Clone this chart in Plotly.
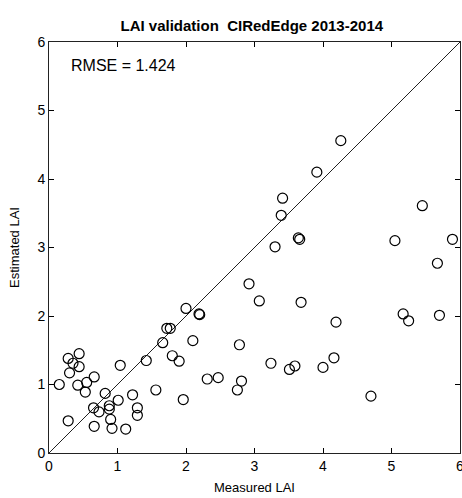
import plotly.graph_objects as go

measured = [0.15, 0.28, 0.30, 0.35, 0.44, 0.44, 0.42, 0.55, 0.53, 0.66, 1.04, 0.28, 0.65, 0.66,
            0.73, 0.82, 0.88, 0.88, 0.90, 0.92, 1.01, 1.12, 1.22, 1.29, 1.29, 1.42,
            1.56, 1.66, 1.72, 1.77, 1.80, 1.90, 1.96, 2.00, 2.10, 2.19, 2.20, 2.31, 2.47,
            2.75, 2.81, 2.78,
            2.92, 3.07, 3.68, 4.19, 3.24, 3.51, 3.59, 4.00, 4.16, 5.17, 5.25, 5.70, 4.70,
            4.26, 3.91, 3.41, 3.39, 3.64, 3.66, 3.30, 5.05, 5.45, 5.89, 5.67]
estimated = [1.00, 1.38, 1.17, 1.31, 1.45, 1.26, 0.99, 1.03, 0.89, 1.11, 1.28, 0.47, 0.66, 0.39,
             0.60, 0.87, 0.69, 0.64, 0.49, 0.36, 0.77, 0.35, 0.85, 0.66, 0.55, 1.35,
             0.92, 1.61, 1.82, 1.82, 1.42, 1.34, 0.78, 2.11, 1.64, 2.03, 2.02, 1.08, 1.10,
             0.92, 1.05, 1.58,
             2.47, 2.22, 2.20, 1.91, 1.31, 1.22, 1.27, 1.25, 1.39, 2.03, 1.93, 2.01, 0.83,
             4.56, 4.10, 3.72, 3.47, 3.14, 3.12, 3.01, 3.10, 3.61, 3.12, 2.77]
one_to_one = [0, 6]
tick_vals = [0, 1, 2, 3, 4, 5, 6]
title_text = "LAI validation  CIRedEdge 2013-2014"
rmse_text = "RMSE = 1.424"

font = "Liberation Sans, Arial, sans-serif"

fig = go.Figure()
fig.add_trace(go.Scatter(x=one_to_one, y=one_to_one, mode="lines",
                         line=dict(color="#222222", width=1), hoverinfo="skip"))
fig.add_trace(go.Scatter(x=measured, y=estimated, mode="markers",
                         marker=dict(symbol="circle-open", size=10, color="black",
                                     line=dict(width=1.2, color="black"))))

axis_common = dict(range=[0, 6], tickvals=tick_vals, ticks="inside", ticklen=5,
                   tickcolor="black", mirror="allticks", showline=True, linecolor="#222222",
                   linewidth=1, showgrid=False, zeroline=False, ticklabeloverflow="allow",
                   automargin=False,
                   tickfont=dict(family=font, size=14, color="black"))

fig.update_xaxes(**axis_common,
                 title=dict(text="Measured LAI", font=dict(family=font, size=13, color="black"),
                            standoff=10))
fig.update_yaxes(**axis_common,
                 title=dict(text="Estimated LAI", font=dict(family=font, size=13, color="black"),
                            standoff=14))

fig.add_annotation(x=0.29, y=5.65, xref="x", yref="y", text=rmse_text, showarrow=False,
                   xanchor="left", yanchor="middle",
                   font=dict(family=font, size=16, color="black"))

fig.update_layout(
    width=462, height=498,
    margin=dict(l=49, r=2, t=42, b=45, autoexpand=False),
    paper_bgcolor="white", plot_bgcolor="white",
    showlegend=False,
    title=dict(text="<b>" + title_text + "</b>", x=0.545, xanchor="center", y=0.948,
               yanchor="middle", font=dict(family=font, size=15, color="black")),
)

fig.write_html("out.html")
